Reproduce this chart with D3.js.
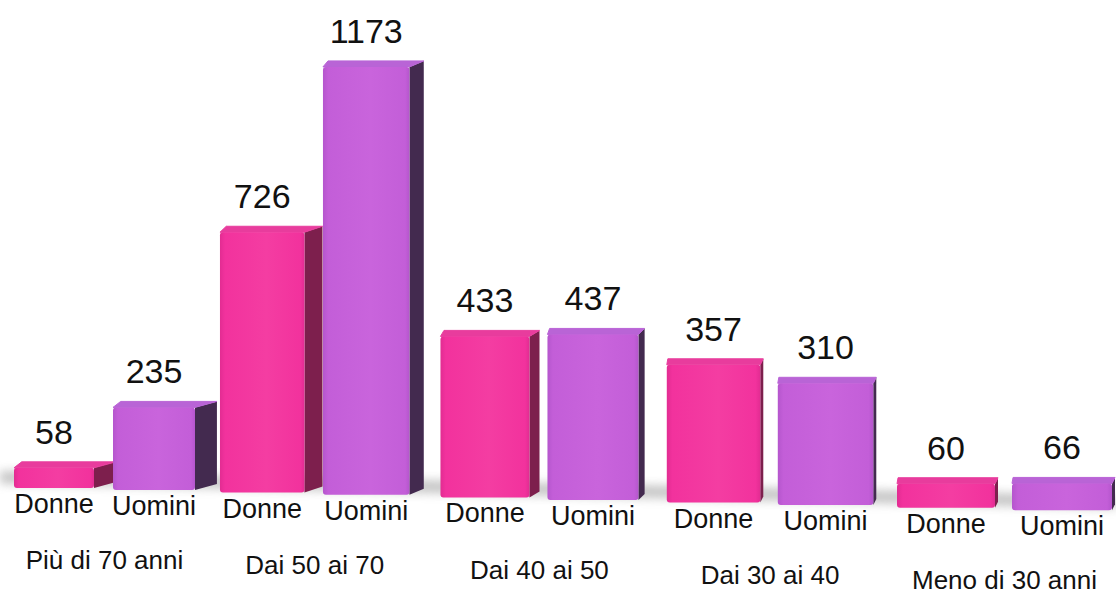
<!DOCTYPE html>
<html>
<head>
<meta charset="utf-8">
<script src="https://cdn.jsdelivr.net/npm/d3@7"></script>
<style>
  body { margin: 0; background: #fff; }
  svg { display: block; font-family: "Liberation Sans", Arial, Helvetica, sans-serif; }
</style>
</head>
<body>
<div id="chart"></div>
<script>
// data
var groups = ["Più di 70 anni", "Dai 50 ai 70", "Dai 40 ai 50", "Dai 30 ai 40", "Meno di 30 anni"];
var series = ["Donne", "Uomini"];
var donne = [58, 726, 433, 357, 60];
var uomini = [235, 1173, 437, 310, 66];

var width = 1116, height = 596;

var svg = d3.select("#chart")
    .append("svg")
    .attr("width", width)
    .attr("height", height);

var defs = svg.append("defs");

// flatten to one list of bars
var bars = [];
groups.forEach(function(g, gi) {
  bars.push({group: gi, k: 0, name: series[0], value: donne[gi]});
  bars.push({group: gi, k: 1, name: series[1], value: uomini[gi]});
});

// perspective-ish scales
var groupX = d3.scalePow().exponent(1.05).domain([0, 4]).range([14, 897]);
var innerOff = d3.scaleLinear().domain([0, 4]).range([99, 115]);
var barW = d3.scaleLinear().domain([0, 4]).range([82, 100]);
var floorY = d3.scaleLinear().domain([0, width]).range([486.7, 511.5]);
var y = d3.scaleLinear().domain([0, 1173]).range([0, 428]);
var persp = d3.scaleLinear().domain([324, 776]).range([1, 1.076]);
var depthX = d3.scaleLinear().domain([193, 756]).range([22, 2]).clamp(true);

bars.forEach(function(b) {
  b.x0 = groupX(b.group) + b.k * innerOff(b.group);
  b.x1 = b.x0 + barW(b.group) - (b.k === 0 ? 2 : 0);
  b.bottom = floorY((b.x0 + b.x1) / 2);
  b.top = b.bottom - y(b.value) * persp(b.x0);
  b.dx = Math.max(3, depthX(b.x1));
  b.dy = 6;
});

// colours
var palette = {
  Donne:  {front: "#f2329d", light: "#f43da2", dark: "#e22c92", side: "#7d1f4d", top: "#e83c9d"},
  Uomini: {front: "#c35ed8", light: "#c964dc", dark: "#b556cd", side: "#432a4f", top: "#b964d6"}
};

series.forEach(function(s) {
  var c = palette[s];
  var grad = defs.append("linearGradient")
      .attr("id", "front-" + s)
      .attr("x1", "0%").attr("x2", "100%");
  grad.append("stop").attr("offset", "0%").attr("stop-color", c.dark);
  grad.append("stop").attr("offset", "6%").attr("stop-color", c.front);
  grad.append("stop").attr("offset", "55%").attr("stop-color", c.light);
  grad.append("stop").attr("offset", "95%").attr("stop-color", c.front);
  grad.append("stop").attr("offset", "100%").attr("stop-color", c.dark);
});

// soft floor shadow
defs.append("filter").attr("id", "blur")
    .attr("x", "-5%").attr("y", "-100%").attr("width", "110%").attr("height", "300%")
  .append("feGaussianBlur").attr("stdDeviation", 5);

var floorPts = [[0, floorY(0) - 16], [width, floorY(width) - 16], [width, floorY(width) - 3], [0, floorY(0) - 3]];
svg.append("path")
    .attr("d", d3.line()(floorPts) + "Z")
    .attr("fill", "#9a9a9a")
    .attr("opacity", 0.55)
    .attr("filter", "url(#blur)");

// bars
var barG = svg.append("g").selectAll("g")
    .data(bars)
    .enter()
    .append("g");

// side face
barG.append("path")
    .attr("d", function(d) {
      return d3.line()([[d.x1, d.bottom], [d.x1, d.top], [d.x1 + d.dx, d.top - d.dy], [d.x1 + d.dx, d.bottom - d.dy]]) + "Z";
    })
    .attr("fill", function(d) { return palette[d.name].side; });

// top face
barG.append("path")
    .attr("d", function(d) {
      return d3.line()([[d.x0, d.top], [d.x1, d.top], [d.x1 + d.dx, d.top - d.dy], [d.x0 + d.dx * 0.35, d.top - d.dy]]) + "Z";
    })
    .attr("fill", function(d) { return palette[d.name].top; })
    .attr("stroke", function(d) { return palette[d.name].top; })
    .attr("stroke-width", 1)
    .attr("stroke-linejoin", "round");

// front face
barG.append("rect")
    .attr("x", function(d) { return d.x0; })
    .attr("y", function(d) { return d.top; })
    .attr("width", function(d) { return d.x1 - d.x0; })
    .attr("height", function(d) { return d.bottom - d.top; })
    .attr("rx", 3)
    .attr("fill", function(d) { return "url(#front-" + d.name + ")"; });

// value labels
barG.append("text")
    .attr("x", function(d) { return (d.x0 + d.x1) / 2; })
    .attr("y", function(d) { return d.top - d.dy - 18; })
    .attr("text-anchor", "middle")
    .attr("font-size", 34)
    .attr("fill", "#111")
    .text(function(d) { return d.value; });

// series labels under each bar
barG.append("text")
    .attr("x", function(d) { return (d.x0 + d.x1) / 2; })
    .attr("y", function(d) { return d.bottom + 25; })
    .attr("text-anchor", "middle")
    .attr("font-size", 27)
    .attr("fill", "#111")
    .text(function(d) { return d.name; });

// group labels
svg.append("g").selectAll("text")
    .data(groups)
    .enter()
    .append("text")
    .attr("x", function(d, i) { return (groupX(i) + groupX(i) + innerOff(i) + barW(i)) / 2; })
    .attr("y", function(d, i) { return floorY(groupX(i) + innerOff(i)) + 80; })
    .attr("text-anchor", "middle")
    .attr("font-size", 26)
    .attr("fill", "#111")
    .text(function(d) { return d; });
</script>
</body>
</html>
